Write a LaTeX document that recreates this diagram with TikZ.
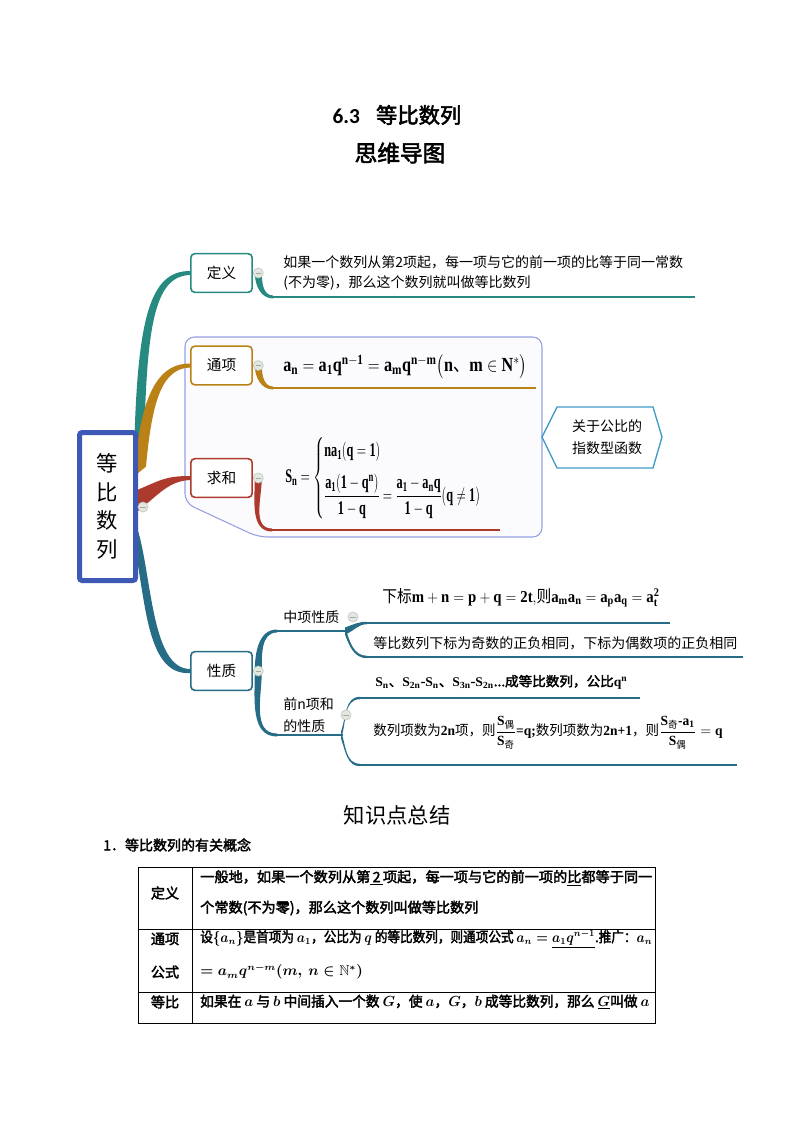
\documentclass[tikz,border=0pt]{standalone}
\usepackage{amsmath,amssymb}
\usepackage{graphicx}
\usepackage{fontspec}
\setmainfont{Liberation Serif}
\newfontfamily\cjk{Noto Sans CJK SC}[AutoFakeBold=2.5]
\newfontfamily\carlito{Carlito}
\usetikzlibrary{positioning, calc, backgrounds}

\definecolor{defc}{RGB}{38,138,128}
\definecolor{genc}{RGB}{186,130,22}
\definecolor{sumc}{RGB}{172,58,45}
\definecolor{propc}{RGB}{38,108,135}
\definecolor{rootc}{RGB}{62,88,182}
\definecolor{lavc}{RGB}{150,160,225}
\definecolor{callc}{RGB}{65,155,200}
\definecolor{knobc}{RGB}{225,232,222}

% tapered branch: colour, from, to, start direction (90 up, -90 down)
\newcommand\sprout[4]{%
  \fill[#1] ($(#2)+(-3.5,0)$) to[out=#4,in=180] ($(#3)+(0,{-1.5*sin(#4)})$)
    -- ($(#3)+(0,{1.5*sin(#4)})$) to[out=180,in=#4] ($(#2)+(3.5,0)$) -- cycle;}
% fork of a twig: colour, from, to, out angle
\newcommand\fork[4]{%
  \fill[#1] ($(#2)+(-2,-3.5)$) to[out=#4,in=180] ($(#3)+(0,-1.2)$)
    -- ($(#3)+(0,1.2)$) to[out=180,in=#4] ($(#2)+(-2,3.5)$) -- cycle;}
% squeeze a line to a given width
\newcommand\fitw[2]{\resizebox{#1}{\height}{#2}}

\begin{document}
\begin{tikzpicture}[x=0.75pt, y=-0.75pt,
    topic/.style={draw=#1, fill=white, line width=1.2pt, rounded corners=3pt,
        minimum width=46pt, minimum height=29pt, inner sep=0pt,
        font=\cjk\fontsize{11}{13}\selectfont},
    knob/.style={circle, draw=gray!45, fill=knobc, line width=0.5pt,
        minimum size=7.5pt, inner sep=0pt,
        path picture={\draw[gray!70, line width=0.4pt]
            ([xshift=-2pt]path picture bounding box.center) --
            ([xshift=2pt]path picture bounding box.center);}},
    leaf/.style={anchor=west, inner sep=0pt, align=left,
        font=\cjk\fontsize{10.5}{15}\selectfont},
    twig/.style={draw=#1, line width=2pt},
    cell/.style={inner sep=0pt, font=\cjk\bfseries\boldmath\fontsize{10.6}{13}\selectfont},
    celltext/.style={cell, anchor=west}
]
    \useasboundingbox (0,0) rectangle (794,1123);

    % titles
    \node[font=\bfseries\fontsize{16}{18}\selectfont] (title) at (397,115)
        {{\carlito 6.3}\hspace{12pt}{\cjk 等比数列}};
    \node[font=\cjk\bfseries\fontsize{17}{19}\selectfont] (subtitle) at (400,153) {思维导图};

    % mind map
    \node[draw=rootc, line width=3.75pt, rounded corners=2pt, fill=white,
        minimum width=42pt, minimum height=111pt, align=center,
        font=\cjk\fontsize{16}{21.4}\selectfont] (root) at (107.5,506.5) {等\\比\\数\\列};
    \node[knob] (k0) at (143,507) {};

    \node[topic=defc] (dingyi) at (221.5,273) {定义};
    \node[topic=genc] (tongxiang) at (221.5,365.5) {通项};
    \node[topic=sumc] (qiuhe) at (221.5,478) {求和};
    \node[topic=propc] (xingzhi) at (221.5,671) {性质};

    \node[knob, right=0pt of dingyi] (k1) {};
    \node[knob, right=0pt of tongxiang] (k2) {};
    \node[knob, right=0pt of qiuhe] (k3) {};
    \node[knob, right=0pt of xingzhi] (k4) {};

    \node[leaf] (dytext) at (283,273)
        {如果一个数列从第2项起，每一项与它的前一项的比等于同一常数\\(不为零)，那么这个数列就叫做等比数列};
    \node[leaf, font=\fontsize{15}{18}\selectfont] (txform) at (283,367)
        {\fitw{183pt}{$\mathbf{a_n=a_1q^{n-1}=a_mq^{n-m}\bigl(n}${\cjk 、}$\mathbf{m\in N^*\bigr)}$}};
    \node[leaf, font=\fontsize{14.5}{17}\selectfont] (sumform) at (285,478)
        {\fitw{156pt}{$\mathbf{S_n}=\begin{cases}\mathbf{na_1(q=1)}\\[7pt]
        \dfrac{\mathbf{a_1(1-q^n)}}{\mathbf{1-q}}=\dfrac{\mathbf{a_1-a_nq}}{\mathbf{1-q}}\mathbf{(q\neq 1)}\end{cases}$}};

    \node[align=center, inner sep=0pt, font=\cjk\fontsize{10.5}{16.5}\selectfont] (note) at (607,437)
        {关于公比的\\指数型函数};

    \node[anchor=west, inner sep=0pt, font=\cjk\fontsize{10.5}{13}\selectfont] (zhongxiang) at (283,617) {中项性质};
    \node[knob] (k5) at (353,617) {};
    \node[anchor=west, inner sep=0pt, align=left, font=\cjk\fontsize{10.5}{16.5}\selectfont] (qianxiang) at (283,715)
        {前n项和\\的性质};
    \node[knob] (k6) at (346,715) {};

    \node[leaf, font=\cjk\fontsize{12.5}{15}\selectfont] (zx1) at (382,598)
        {\fitw{208pt}{下标$\mathbf{m+n=p+q=2t,}$则$\mathbf{a_ma_n=a_pa_q=a_t^2}$}};
    \node[leaf] (zx2) at (373,643) {等比数列下标为奇数的正负相同，下标为偶数项的正负相同};
    \node[leaf, font=\cjk\bfseries\fontsize{10}{12}\selectfont] (qn1) at (375,682)
        {\fitw{189pt}{$\mathbf{S_n}$、$\mathbf{S_{2n}}$-$\mathbf{S_n}$、$\mathbf{S_{3n}}$-$\mathbf{S_{2n}}$...成等比数列，公比$\mathbf{q^n}$}};
    \node[leaf, font=\cjk\fontsize{10.5}{12}\selectfont] (qn2) at (373,733)
        {\fitw{262pt}{数列项数为{\rmfamily\bfseries 2n}项，则$\dfrac{\mathbf{S}_{\text{偶}}}{\mathbf{S}_{\text{奇}}}${\rmfamily\bfseries =q;}数列项数为{\rmfamily\bfseries 2n+1}，则$\dfrac{\mathbf{S}_{\text{奇}}\text{\rmfamily\bfseries -}\mathbf{a_1}}{\mathbf{S}_{\text{偶}}}=\mathbf{q}$}};

    % ends of the twigs
    \coordinate (u0a) at (273,297);  \coordinate (u0b) at (695,297);
    \coordinate (u1a) at (273,388);  \coordinate (u1b) at (536,388);
    \coordinate (u2a) at (272,530);  \coordinate (u2b) at (500,530);
    \coordinate (u3a) at (277,631);  \coordinate (u3b) at (347,631);
    \coordinate (u4a) at (277,735);  \coordinate (u4b) at (343,735);
    \coordinate (u5a) at (367,623);  \coordinate (u5b) at (670,623);
    \coordinate (u6a) at (367,657);  \coordinate (u6b) at (743,657);
    \coordinate (u7a) at (360,698);  \coordinate (u7b) at (640,698);
    \coordinate (u8a) at (360,765);  \coordinate (u8b) at (737,765);

    \begin{scope}[on background layer]
        \draw[draw=lavc, line width=0.8pt, fill=lavc!4, rounded corners=7pt]
            (185,337) -- (542,337) -- (542,537) -- (258,537) -- (185,503) -- cycle;
        \draw[draw=callc, line width=1pt, fill=white]
            ($(note)+(-50,-30)$) -- ($(note)+(46,-30)$) -- ($(note)+(55,0)$) --
            ($(note)+(46,31)$) -- ($(note)+(-50,31)$) -- ($(note)+(-65,0)$) -- cycle;

        % main branches
        \fill[defc] ($(root.east)+(-4,-50)$) .. controls ($(root.east)+(-1,-190)$) and ($(dingyi.west)+(-40,-2)$) .. ($(dingyi.west)+(0,-2)$)
            -- ($(dingyi.west)+(0,2)$) .. controls ($(dingyi.west)+(-36,3)$) and ($(root.east)+(8,-180)$) .. ($(root.east)+(6,-50)$) -- cycle;
        \fill[genc] ($(root.east)+(-4,-30)$) .. controls ($(root.east)+(2,-106)$) and ($(tongxiang.west)+(-35,-2)$) .. ($(tongxiang.west)+(0,-2)$)
            -- ($(tongxiang.west)+(0,2)$) .. controls ($(tongxiang.west)+(-28,3)$) and ($(root.east)+(14,-106)$) .. ($(root.east)+(8,-40)$) -- cycle;
        \fill[sumc] ($(root.east)+(-2,-16)$) .. controls ($(root.east)+(22,-26)$) and ($(qiuhe.west)+(-25,-2)$) .. ($(qiuhe.west)+(0,-2)$)
            -- ($(qiuhe.west)+(0,2)$) .. controls ($(qiuhe.west)+(-22,3)$) and ($(root.east)+(20,-11)$) .. ($(root.east)+(-2,6)$) -- cycle;
        \fill[propc] ($(root.east)+(-2,18)$) .. controls ($(root.east)+(14,63)$) and ($(xingzhi.west)+(-40,-2)$) .. ($(xingzhi.west)+(0,-2)$)
            -- ($(xingzhi.west)+(0,2)$) .. controls ($(xingzhi.west)+(-44,5)$) and ($(root.east)+(8,93)$) .. ($(root.east)+(-4,38)$) -- cycle;

        % twigs
        \sprout{defc}{k1}{u0a}{-90}
        \sprout{genc}{k2}{u1a}{-90}
        \sprout{sumc}{k3}{u2a}{-90}
        \sprout{propc}{k4}{u3a}{90}
        \sprout{propc}{k4}{u4a}{-90}
        \fork{propc}{u3b}{u5a}{20}
        \fork{propc}{u3b}{u6a}{-70}
        \fork{propc}{u4b}{u7a}{70}
        \fork{propc}{u4b}{u8a}{-70}
    \end{scope}

    \draw[twig=defc] (u0a) -- (u0b);
    \draw[twig=genc] (u1a) -- (u1b);
    \draw[twig=sumc] (u2a) -- (u2b);
    \draw[twig=propc] (u3a) -- (u3b);
    \draw[twig=propc] (u4a) -- (u4b);
    \draw[twig=propc] (u5a) -- (u5b);
    \draw[twig=propc] (u6a) -- (u6b);
    \draw[twig=propc] (u7a) -- (u7b);
    \draw[twig=propc] (u8a) -- (u8b);

    % summary table
    \node[font=\cjk\fontsize{16}{18}\selectfont] (summary) at (397,815) {知识点总结};
    \node[anchor=west, inner sep=0pt, font=\cjk\bfseries\fontsize{10.5}{12}\selectfont] (sec1) at (103,845)
        {1．等比数列的有关概念};

    \draw[line width=0.75pt] (138,867) rectangle (655,1023);
    \draw[line width=0.75pt] (192,867) -- (192,1023);
    \draw[line width=0.75pt] (138,929) -- (655,929);
    \draw[line width=0.75pt] (138,992) -- (655,992);

    \node[cell] (t11) at (165,893) {定义};
    \node[celltext] (t12) at (200,878)
        {\fitw{339pt}{一般地，如果一个数列从第\underline{\,2\,}项起，每一项与它的前一项的\underline{比}都等于同一}};
    \node[celltext] (t13) at (200,908) {个常数(不为零)，那么这个数列叫做等比数列};
    \node[cell] (t21) at (165,939) {通项};
    \node[cell] (t22) at (165,972) {公式};
    \node[celltext] (t23) at (200,939)
        {\fitw{339pt}{设$\{a_n\}$是首项为 $a_1$，公比为 $q$ 的等比数列，则通项公式 $a_n=\underline{a_1q^{n-1}}$.推广：$a_n$}};
    \node[celltext] (t24) at (200,972) {$=a_mq^{n-m}(m,\ n\in\mathbb{N}^*)$};
    \node[cell] (t31) at (165,1002) {等比};
    \node[celltext] (t32) at (200,1002)
        {\fitw{337pt}{如果在 $a$ 与 $b$ 中间插入一个数 $G$，使 $a$，$G$，$b$ 成等比数列，那么 \underline{$G$}叫做 $a$}};
\end{tikzpicture}
\end{document}
